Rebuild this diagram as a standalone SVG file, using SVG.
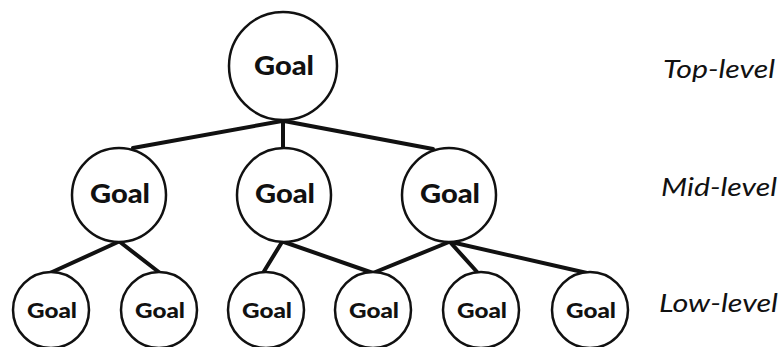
<svg xmlns="http://www.w3.org/2000/svg" width="782" height="347" viewBox="0 0 782 347">
<style>
.node circle{fill:#fff;stroke:#111;stroke-width:2.5}
.g{font-family:Lato,"Liberation Sans",sans-serif;font-weight:900;fill:#111;text-anchor:middle}
.big{font-size:26px}
.small{font-size:21px}
.lvl{font-family:Lato,"Liberation Sans",sans-serif;font-style:italic;font-size:26px;fill:#111}
#connectors line{stroke:#111;stroke-width:4;stroke-linecap:round}
</style>
<rect width="782" height="347" fill="#fff"/>
<g id="connectors">
<line x1="282" y1="121" x2="133" y2="148"/>
<line x1="283" y1="121" x2="283" y2="148"/>
<line x1="284" y1="121" x2="433" y2="149"/>
<line x1="118" y1="242" x2="50" y2="273"/>
<line x1="120" y1="242" x2="160" y2="273"/>
<line x1="282" y1="242" x2="263" y2="273"/>
<line x1="284" y1="242" x2="373" y2="273"/>
<line x1="449" y1="242" x2="373" y2="273"/>
<line x1="450" y1="242" x2="478" y2="273"/>
<line x1="451" y1="242" x2="587" y2="273"/>
</g>
<g id="top" class="node"><circle cx="283" cy="66" r="54"/><text class="g big" x="284" y="75" textLength="60" lengthAdjust="spacingAndGlyphs">Goal</text></g>
<g id="mid1" class="node"><circle cx="119" cy="195" r="47"/><text class="g big" x="120" y="203" textLength="60" lengthAdjust="spacingAndGlyphs">Goal</text></g>
<g id="mid2" class="node"><circle cx="284" cy="195" r="47"/><text class="g big" x="285" y="203" textLength="60" lengthAdjust="spacingAndGlyphs">Goal</text></g>
<g id="mid3" class="node"><circle cx="449" cy="195" r="47"/><text class="g big" x="450" y="203" textLength="60" lengthAdjust="spacingAndGlyphs">Goal</text></g>
<g id="low1" class="node"><circle cx="51" cy="310" r="38"/><text class="g small" x="52" y="318" textLength="50" lengthAdjust="spacingAndGlyphs">Goal</text></g>
<g id="low2" class="node"><circle cx="159" cy="310" r="38"/><text class="g small" x="160" y="318" textLength="50" lengthAdjust="spacingAndGlyphs">Goal</text></g>
<g id="low3" class="node"><circle cx="266" cy="310" r="38"/><text class="g small" x="267" y="318" textLength="50" lengthAdjust="spacingAndGlyphs">Goal</text></g>
<g id="low4" class="node"><circle cx="373" cy="310" r="38"/><text class="g small" x="374" y="318" textLength="50" lengthAdjust="spacingAndGlyphs">Goal</text></g>
<g id="low5" class="node"><circle cx="481" cy="310" r="38"/><text class="g small" x="482" y="318" textLength="50" lengthAdjust="spacingAndGlyphs">Goal</text></g>
<g id="low6" class="node"><circle cx="590" cy="310" r="38"/><text class="g small" x="591" y="318" textLength="50" lengthAdjust="spacingAndGlyphs">Goal</text></g>
<g id="labels">
<text class="lvl" x="663" y="78" textLength="112" lengthAdjust="spacingAndGlyphs">Top-level</text>
<text class="lvl" x="661" y="196" textLength="116" lengthAdjust="spacingAndGlyphs">Mid-level</text>
<text class="lvl" x="659" y="312" textLength="119" lengthAdjust="spacingAndGlyphs">Low-level</text>
</g>
</svg>
